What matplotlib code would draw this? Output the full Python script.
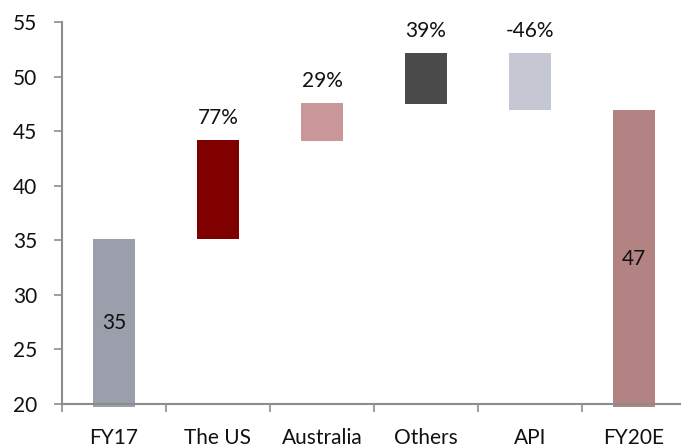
import matplotlib.pyplot as plt
import numpy as np

# ---- data ----
categories = ['FY17', 'The US', 'Australia', 'Others', 'API', 'FY20E']
bar_bottoms = [19.75, 35.1, 44.1, 47.5, 46.9, 19.75]
bar_tops = [35.1, 44.2, 47.6, 52.2, 52.2, 46.9]
inside_labels = ['35', None, None, None, None, '47']
growth_labels = [None, '77%', '29%', '39%', '-46%', None]
bar_colors = ['#9B9FAC', '#800000', '#C99797', '#4B4B4B', '#C5C8D2', '#B38383']
y_ticks = [20, 25, 30, 35, 40, 45, 50, 55]

plt.rcParams['font.family'] = ['Lato', 'DejaVu Sans']

fig = plt.figure(figsize=(6.81, 4.46), dpi=100, facecolor='white')
ax = fig.add_axes([62 / 681, 42 / 446, 624 / 681, 382 / 446])

x = np.arange(len(categories))
heights = [t - b for t, b in zip(bar_tops, bar_bottoms)]
bars = ax.bar(x, heights, bottom=bar_bottoms, width=0.4, color=bar_colors,
              edgecolor='none', zorder=2, clip_on=False)

# value inside the total bars
for i, lab in enumerate(inside_labels):
    if lab:
        ax.text(x[i], (bar_bottoms[i] + bar_tops[i]) / 2, lab,
                ha='center', va='center', fontsize=15, color='#111111', zorder=3)

# growth labels above the step bars
for i, lab in enumerate(growth_labels):
    if lab:
        ax.annotate(lab, (x[i], bar_tops[i]), xytext=(0, 8.5), textcoords='offset points',
                    ha='center', va='bottom', fontsize=15, color='#111111')

ax.set_xlim(-0.5, len(categories) - 0.5)
ax.set_ylim(20, 55)
ax.set_yticks(y_ticks)

ax.set_xticks(x)
ax.set_xticklabels(categories)
ax.set_xticks(np.arange(len(categories) + 1) - 0.5, minor=True)

for s in ['top', 'right']:
    ax.spines[s].set_visible(False)
for s in ['left', 'bottom']:
    ax.spines[s].set_color('#8C8C8C')
    ax.spines[s].set_linewidth(1.5)

ax.tick_params(axis='y', direction='out', length=6, width=1.2, color='#8C8C8C',
               labelsize=15, labelcolor='#111111', pad=12)
ax.tick_params(axis='x', which='major', length=0, labelsize=15,
               labelcolor='#111111', pad=17)
ax.tick_params(axis='x', which='minor', direction='out', length=6, width=1.2,
               color='#8C8C8C')

fig.savefig('out.png', dpi=100, facecolor='white')
